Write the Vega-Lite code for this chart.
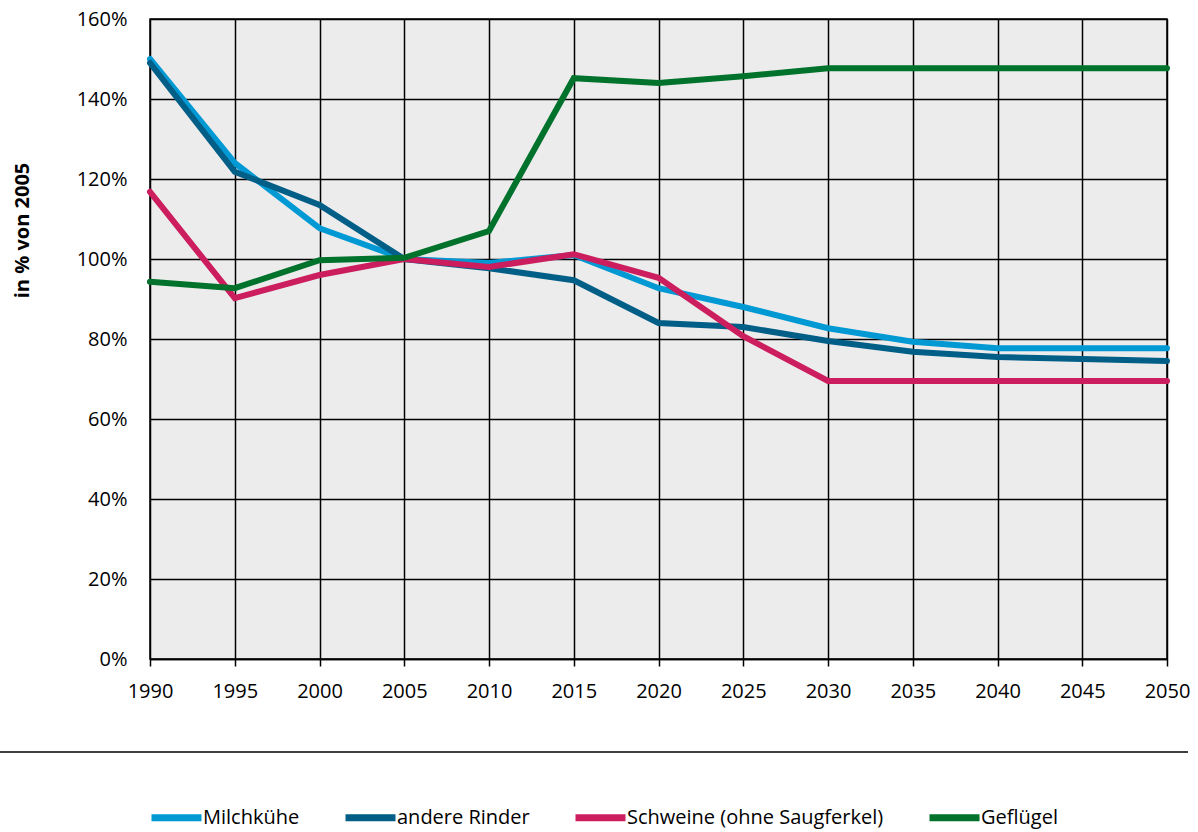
{
  "$schema": "https://vega.github.io/schema/vega-lite/v6.json",
  "width": 1017,
  "height": 640,
  "autosize": "none",
  "padding": {"left": 150, "top": 19, "right": 31, "bottom": 173},
  "background": "white",
  "config": {
    "font": "Open Sans",
    "view": {"stroke": "black", "strokeWidth": 1.5, "fill": "#ececec"},
    "axis": {"gridColor": "black", "gridOpacity": 1, "gridWidth": 1.5, "labelFont": "Open Sans", "labelFontSize": 20, "labelColor": "black", "domainColor": "black", "domainWidth": 1.5, "tickColor": "black", "tickWidth": 1.5}
  },
  "datasets": {
    "main": [
      {"year": 1990, "series": "Milchkühe", "value": 150},
      {"year": 1995, "series": "Milchkühe", "value": 124},
      {"year": 2000, "series": "Milchkühe", "value": 107.7},
      {"year": 2005, "series": "Milchkühe", "value": 100},
      {"year": 2010, "series": "Milchkühe", "value": 99},
      {"year": 2015, "series": "Milchkühe", "value": 101},
      {"year": 2020, "series": "Milchkühe", "value": 92.7},
      {"year": 2025, "series": "Milchkühe", "value": 88},
      {"year": 2030, "series": "Milchkühe", "value": 82.7},
      {"year": 2035, "series": "Milchkühe", "value": 79.3},
      {"year": 2040, "series": "Milchkühe", "value": 77.7},
      {"year": 2045, "series": "Milchkühe", "value": 77.7},
      {"year": 2050, "series": "Milchkühe", "value": 77.7},
      {"year": 1990, "series": "andere Rinder", "value": 149},
      {"year": 1995, "series": "andere Rinder", "value": 121.8},
      {"year": 2000, "series": "andere Rinder", "value": 113.5},
      {"year": 2005, "series": "andere Rinder", "value": 100},
      {"year": 2010, "series": "andere Rinder", "value": 97.7},
      {"year": 2015, "series": "andere Rinder", "value": 94.7},
      {"year": 2020, "series": "andere Rinder", "value": 84},
      {"year": 2025, "series": "andere Rinder", "value": 83},
      {"year": 2030, "series": "andere Rinder", "value": 79.5},
      {"year": 2035, "series": "andere Rinder", "value": 76.8},
      {"year": 2040, "series": "andere Rinder", "value": 75.5},
      {"year": 2045, "series": "andere Rinder", "value": 75},
      {"year": 2050, "series": "andere Rinder", "value": 74.5},
      {"year": 1990, "series": "Schweine (ohne Saugferkel)", "value": 116.8},
      {"year": 1995, "series": "Schweine (ohne Saugferkel)", "value": 90.2},
      {"year": 2000, "series": "Schweine (ohne Saugferkel)", "value": 96},
      {"year": 2005, "series": "Schweine (ohne Saugferkel)", "value": 100},
      {"year": 2010, "series": "Schweine (ohne Saugferkel)", "value": 98},
      {"year": 2015, "series": "Schweine (ohne Saugferkel)", "value": 101.2},
      {"year": 2020, "series": "Schweine (ohne Saugferkel)", "value": 95.3},
      {"year": 2025, "series": "Schweine (ohne Saugferkel)", "value": 80.7},
      {"year": 2030, "series": "Schweine (ohne Saugferkel)", "value": 69.5},
      {"year": 2035, "series": "Schweine (ohne Saugferkel)", "value": 69.5},
      {"year": 2040, "series": "Schweine (ohne Saugferkel)", "value": 69.5},
      {"year": 2045, "series": "Schweine (ohne Saugferkel)", "value": 69.5},
      {"year": 2050, "series": "Schweine (ohne Saugferkel)", "value": 69.5},
      {"year": 1990, "series": "Geflügel", "value": 94.3},
      {"year": 1995, "series": "Geflügel", "value": 92.7},
      {"year": 2000, "series": "Geflügel", "value": 99.7},
      {"year": 2005, "series": "Geflügel", "value": 100.3},
      {"year": 2010, "series": "Geflügel", "value": 107},
      {"year": 2015, "series": "Geflügel", "value": 145.2},
      {"year": 2020, "series": "Geflügel", "value": 144},
      {"year": 2025, "series": "Geflügel", "value": 145.7},
      {"year": 2030, "series": "Geflügel", "value": 147.7},
      {"year": 2035, "series": "Geflügel", "value": 147.7},
      {"year": 2040, "series": "Geflügel", "value": 147.7},
      {"year": 2045, "series": "Geflügel", "value": 147.7},
      {"year": 2050, "series": "Geflügel", "value": 147.7}
    ],
    "sep": [{"a": 1}]
  },
  "layer": [
    {
      "data": {"name": "main"},
      "mark": {"type": "line", "strokeWidth": 6, "strokeCap": "round", "strokeJoin": "miter", "clip": false},
      "encoding": {
        "x": {"field": "year", "type": "quantitative", "scale": {"domain": [1990, 2050], "nice": false, "zero": false},
              "axis": {"values": [1990,1995,2000,2005,2010,2015,2020,2025,2030,2035,2040,2045,2050], "format": "d", "title": null, "tickSize": 7, "labelPadding": 15, "labelFlush": false, "labelOverlap": false, "labelBound": false, "grid": true}},
        "y": {"field": "value", "type": "quantitative", "scale": {"domain": [0, 160], "nice": false},
              "axis": {"values": [0,20,40,60,80,100,120,140,160], "labelExpr": "datum.value + '%'", "ticks": false, "labelPadding": 23, "domain": false, "labelFlush": false, "labelOverlap": false,
                       "title": "in % von 2005", "titleFont": "Open Sans", "titleFontSize": 20, "titleFontWeight": "bold", "titleColor": "black", "titleX": -128, "titleY": 211, "titleAngle": -90, "titleAlign": "center", "titleBaseline": "middle"}},
        "color": {"field": "series", "type": "nominal",
                  "scale": {"domain": ["Milchkühe", "andere Rinder", "Schweine (ohne Saugferkel)", "Geflügel"], "range": ["#0099d4", "#005e87", "#cc1e5e", "#00722b"]},
                  "legend": {"title": null, "orient": "none", "direction": "horizontal", "legendX": -2, "legendY": 770, "symbolType": "stroke", "symbolSize": 2500, "symbolStrokeWidth": 7, "labelFont": "Open Sans", "labelFontSize": 20, "labelColor": "black", "labelOffset": -2, "columnPadding": 31, "labelLimit": 400}}
      }
    },
    {
      "data": {"name": "sep"},
      "mark": {"type": "rule", "color": "black", "strokeWidth": 1.5, "clip": false},
      "encoding": {"x": {"value": -150}, "x2": {"value": 1038}, "y": {"value": 733}}
    }
  ]
}
